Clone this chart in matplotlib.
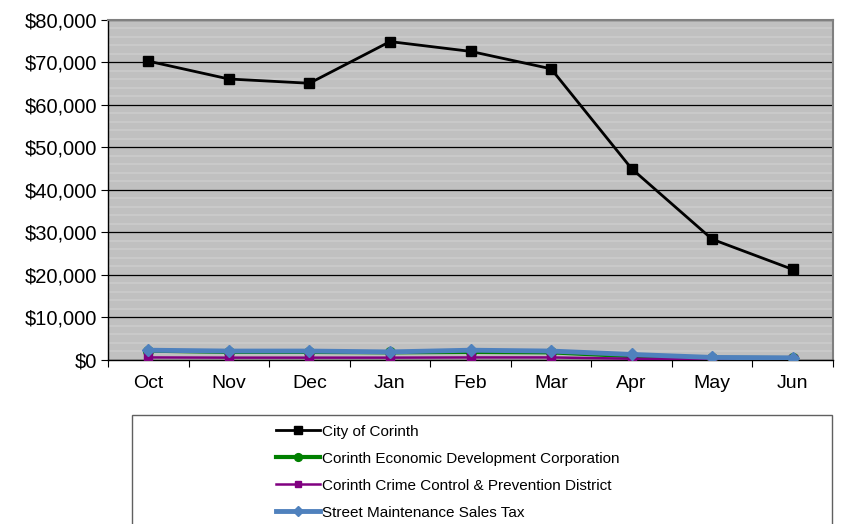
import numpy as np
import matplotlib.pyplot as plt
from matplotlib.patches import Rectangle
from matplotlib.ticker import FuncFormatter, MultipleLocator

plt.rcParams['font.family'] = ['Liberation Sans', 'DejaVu Sans']

months = ['Oct', 'Nov', 'Dec', 'Jan', 'Feb', 'Mar', 'Apr', 'May', 'Jun']
city = [70300, 66100, 65100, 74900, 72600, 68500, 45000, 28400, 21300]
edc = [2200, 1900, 1900, 1800, 1900, 1800, 900, 500, 450]
crime = [600, 550, 550, 550, 600, 600, 300, 250, 250]
street = [2300, 2100, 2100, 1900, 2300, 2100, 1300, 600, 500]

fig = plt.figure(figsize=(8.44, 5.24), dpi=100)
ax = fig.add_axes([0.128, 0.313, 0.859, 0.649])
ax.set_facecolor('#c0c0c0')

x = np.arange(len(months))
ax.plot(x, city, color='black', lw=2, marker='s', ms=7.5, label='City of Corinth', zorder=5)
ax.plot(x, edc, color='#008000', lw=3, marker='o', ms=7, label='Corinth Economic Development Corporation', zorder=4)
ax.plot(x, crime, color='#800080', lw=1.8, marker='s', ms=6, label='Corinth Crime Control & Prevention District', zorder=4)
ax.plot(x, street, color='#4f81bd', lw=3.5, marker='D', ms=6, label='Street Maintenance Sales Tax', zorder=6)

ax.set_xlim(-0.5, len(months) - 0.5)
ax.set_ylim(0, 80000)
ax.yaxis.set_major_locator(MultipleLocator(10000))
ax.yaxis.set_minor_locator(MultipleLocator(2000))
ax.yaxis.set_major_formatter(FuncFormatter(lambda v, p: '${:,.0f}'.format(v)))
ax.grid(axis='y', which='minor', color='#cbcbcb', lw=1.2, zorder=0)
ax.grid(axis='y', which='major', color='black', lw=0.9, zorder=1)
ax.tick_params(axis='y', which='minor', length=0)

# category labels centred, ticks on the boundaries
ax.set_xticks(np.arange(len(months) + 1) - 0.5)
ax.set_xticklabels([])
ax.set_xticks(x, minor=True)
ax.set_xticklabels(months, minor=True)
ax.tick_params(axis='x', which='minor', length=0, labelsize=14, pad=11)
ax.tick_params(axis='x', which='major', length=5, direction='out', color='black')
ax.tick_params(axis='y', which='major', length=5, direction='out', labelsize=14.5, pad=3)

for s in ['top', 'right']:
    ax.spines[s].set_color('#808080')
    ax.spines[s].set_linewidth(1.5)
for s in ['left', 'bottom']:
    ax.spines[s].set_color('black')
    ax.spines[s].set_linewidth(1)

# legend box running off the bottom edge
box = Rectangle((132 / 844, -0.05), 700 / 844, (524 - 415) / 524 + 0.05,
                transform=fig.transFigure, facecolor='white', edgecolor='#606060',
                lw=1, clip_on=False)
fig.patches.append(box)
fig.legend(loc='upper left', bbox_to_anchor=(262 / 844, 1 - 411 / 524),
           frameon=False, fontsize=11, handlelength=2.9, handletextpad=0.1,
           labelspacing=0.85, markerscale=0.8)

fig.savefig('out.png', dpi=100)
